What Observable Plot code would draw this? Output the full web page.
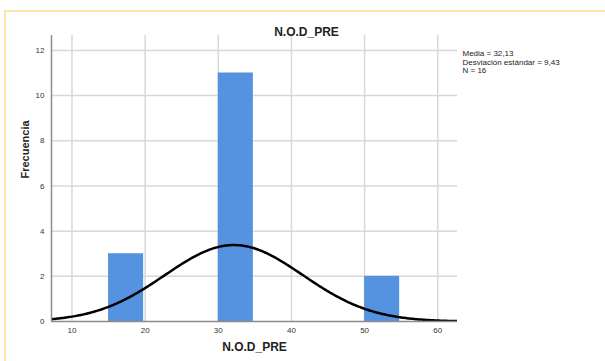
<!DOCTYPE html>
<html>
<head>
<meta charset="utf-8">
<script src="https://cdn.jsdelivr.net/npm/d3@7"></script>
<script src="https://cdn.jsdelivr.net/npm/@observablehq/plot@0.6"></script>
<style>
  html, body { margin: 0; padding: 0; background: #fff; }
  #wrap { position: relative; width: 605px; height: 361px; overflow: hidden; }
  #edge { position: absolute; left: 4px; top: 10px; right: -10px; bottom: -10px;
          border-top: 2px solid #fbe7a3; border-left: 2px solid #fbe7a3; pointer-events: none; }
</style>
</head>
<body>
<div id="wrap"><div id="edge"></div></div>
<script>
// Histogram of N.O.D_PRE with its fitted normal curve
const binStarts = [15, 30, 50];
const binWidth = 5;
const counts = [3, 11, 2];
const media = 32.13;
const desviacion = 9.43;
const n = 16;
const xTicks = [10, 20, 30, 40, 50, 60];
const yTicks = [0, 2, 4, 6, 8, 10, 12];
const xDomain = [7.2, 62.7];
const yDomain = [0, 12.66];

const bins = binStarts.map((x0, i) => ({x0, x1: x0 + binWidth, count: counts[i]}));

// Normal density scaled to counts (N × bin width × pdf)
const curve = d3.range(xDomain[0], xDomain[1] + 0.001, 0.2).map(x => ({
  x,
  y: n * binWidth * Math.exp(-0.5 * ((x - media) / desviacion) ** 2) / (desviacion * Math.sqrt(2 * Math.PI))
}));

const fmt = v => v.toFixed(2).replace(".", ",");
const stats = `Media = ${fmt(media)}\nDesviación estándar = ${fmt(desviacion)}\nN = ${n}`;

const font = "'Liberation Sans', Arial, sans-serif";

const chart = Plot.plot({
  width: 605,
  height: 361,
  marginLeft: 51,
  marginRight: 148,
  marginTop: 35,
  marginBottom: 40,
  style: {fontFamily: font, fontSize: "8px", color: "#333", background: "transparent", overflow: "visible"},
  x: {domain: xDomain, ticks: xTicks, tickSize: 0, tickPadding: 6, label: null},
  y: {domain: yDomain, ticks: yTicks, tickSize: 0, tickPadding: 7, label: null},
  marks: [
    Plot.ruleX(xTicks, {stroke: "#d8d8d8", strokeWidth: 1.5}),
    Plot.ruleY(yTicks.filter(d => d > 0), {stroke: "#d8d8d8", strokeWidth: 1.5}),
    Plot.rectY(bins, {x1: "x0", x2: "x1", y: "count", fill: "#5593e1", insetRight: 1.5}),
    Plot.line(curve, {x: "x", y: "y", stroke: "#000", strokeWidth: 2.5, clip: true}),
    Plot.ruleX([xDomain[0]], {stroke: "#8c8c8c", strokeWidth: 1.5}),
    Plot.ruleY([0], {stroke: "#8c8c8c", strokeWidth: 1.5}),
    Plot.axisX({ticks: xTicks, tickSize: 0, tickPadding: 6, label: null}),
    Plot.axisY({ticks: yTicks, tickSize: 0, tickPadding: 7, label: null}),
    Plot.text(["N.O.D_PRE"], {frameAnchor: "top-left", dx: 255, dy: -8, textAnchor: "middle",
      fontSize: 12, fontWeight: "bold", fill: "#222"}),
    Plot.text(["N.O.D_PRE"], {frameAnchor: "bottom", dy: 29, fontSize: 12, fontWeight: "bold", fill: "#222"}),
    Plot.text(["Frecuencia"], {frameAnchor: "left", dx: -26, rotate: -90, fontSize: 11, fontWeight: "bold", fill: "#222"}),
    Plot.text([stats], {frameAnchor: "top-right", dx: 5, dy: 15, textAnchor: "start", lineAnchor: "top",
      lineHeight: 1.04, fontSize: 8, fill: "#222"})
  ]
});

document.getElementById("wrap").prepend(chart);
</script>
</body>
</html>
